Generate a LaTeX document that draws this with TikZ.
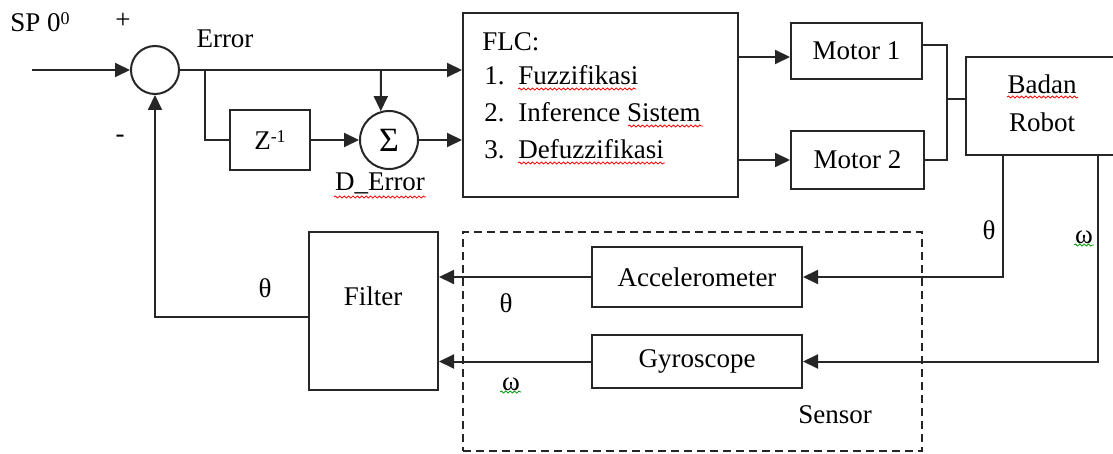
\documentclass[tikz,border=0pt]{standalone}
\usepackage{fontspec}
\setmainfont{Liberation Serif}
\usetikzlibrary{arrows.meta,decorations.pathmorphing}
\begin{document}
\begin{tikzpicture}[x=0.5pt,y=-0.5pt,
  font=\fontsize{13.5}{16}\selectfont,
  blk/.style={draw=black!85, line width=1pt, inner sep=0pt},
  ln/.style={draw=black!85, line width=1pt},
  arr/.style={draw=black!85, line width=1pt, -{Triangle[length=7.5pt,width=7pt]}},
  lbl/.style={inner sep=0pt},
  wavy/.style={draw=red, line width=0.4pt, decorate, decoration={snake, amplitude=0.5pt, segment length=2.2pt}},
  gwavy/.style={draw=green!60!black, line width=0.4pt, decorate, decoration={snake, amplitude=0.5pt, segment length=2.2pt}}]
\useasboundingbox (0,0) rectangle (1113,454);

% helper coordinates
\coordinate (y45) at (0,45);
\coordinate (y57) at (0,57);
\coordinate (y317) at (0,317);
\coordinate (thx) at (1003,0);
\coordinate (omx) at (1098,0);

% labels left
\node[lbl, anchor=west] (sp) at (10,22) {SP 0\raisebox{0.55ex}{\fontsize{9}{9}\selectfont 0}};
\node[lbl] (plus) at (123,21) {+};
\node[lbl] (minus) at (120,139) {-};
\node[lbl] (err) at (225,39) {Error};

% blocks
\coordinate (in) at (32,70);
\node[blk, circle, minimum size=24pt] (sum) at (155,70) {};
\node[blk, minimum width=40pt, minimum height=30pt] (z) at (270,140) {Z\raisebox{0.55ex}{\fontsize{9}{9}\selectfont -1}};
\node[blk, circle, minimum size=29pt, font=\fontsize{17}{17}\selectfont] (sig) at (389,140) {Σ};
\node[lbl] (derr) at (380,183) {D\_Error};

\node[blk, minimum width=137.5pt, minimum height=92pt] (flc) at (600.5,105) {};
\node[lbl, anchor=base west] (flct) at (482,51) {FLC:};
\node[lbl, anchor=base west] (n1) at (484,85) {1.};
\node[lbl, anchor=base west] (i1) at (518,85) {Fuzzifikasi};
\node[lbl, anchor=base west] (n2) at (484,122) {2.};
\node[lbl, anchor=base west] (i2) at (518,122) {Inference Sistem};
\node[lbl, anchor=base west] (n3) at (484,159) {3.};
\node[lbl, anchor=base west] (i3) at (518,159) {Defuzzifikasi};

\node[blk, minimum width=65.5pt, minimum height=28pt] (m1) at (856.5,51) {Motor 1};
\node[blk, minimum width=66.5pt, minimum height=29pt] (m2) at (857.5,160) {Motor 2};
\node[blk, minimum width=76pt, minimum height=49pt] (bad) at (1042,106) {};
\node[lbl, align=center, font=\fontsize{13.5}{19}\selectfont] (badt) at (1042,103) {Badan\\Robot};

\node[draw=black!85, line width=0.9pt, dash pattern=on 4pt off 2.5pt, minimum width=229.5pt, minimum height=109.5pt, inner sep=0pt] (sens) at (692.5,341.5) {};
\node[lbl] (senst) at (835,415) {Sensor};
\node[blk, minimum width=105pt, minimum height=30pt] (acc) at (697,277) {Accelerometer};
\node[blk, minimum width=105pt, minimum height=26.5pt] (gyro) at (697,361.5) {Gyroscope};
\node[blk, minimum width=64.5pt, minimum height=79pt] (filt) at (373.5,311) {};
\node[lbl] (filtt) at (373,296) {Filter};

% signal labels
\node[lbl] (th1) at (989,230) {θ};
\node[lbl] (om1) at (1084,237) {ω};
\node[lbl] (th2) at (506,303) {θ};
\node[lbl] (om2) at (511,384) {ω};
\node[lbl] (th3) at (265,288) {θ};

% connectors
\draw[arr] (in) -- (sum.west);
\draw[arr] (sum.east) -- (sum.east -| flc.west);
\coordinate (br) at (205,70);
\draw[ln] (br) |- (z.west);
\coordinate (br2) at (381,70);
\draw[arr] (br2) -- (sig.106);
\draw[arr] (z.east) -- (sig.west);
\draw[arr] (sig.east) -- (sig.east -| flc.west);
\draw[arr] (flc.east |- y57) -- (m1.west |- y57);
\draw[arr] (flc.east |- m2.west) -- (m2.west);
\coordinate (j) at (947,99);
\draw[ln] (m1.east |- y45) -| (j) |- (m2.east);
\draw[ln] (j) -- (j -| bad.west);
\draw[arr] (bad.south -| thx) |- (acc.east);
\draw[arr] (bad.south -| omx) |- (gyro.east);
\draw[arr] (acc.west) -- (acc.west -| filt.east);
\draw[arr] (gyro.west) -- (gyro.west -| filt.east);
\draw[arr] (filt.west |- y317) -| (sum.south);

% spell-check underlines
\draw[wavy] (518,89) -- (636,89);
\draw[wavy] (628,126) -- (703,126);
\draw[wavy] (518,163) -- (665,163);
\draw[wavy] (1007,97) -- (1078,97);
\draw[wavy] (334,197) -- (426,197);
\draw[gwavy] (1074,245) -- (1094,245);
\draw[gwavy] (500,392) -- (521,392);
\end{tikzpicture}
\end{document}
